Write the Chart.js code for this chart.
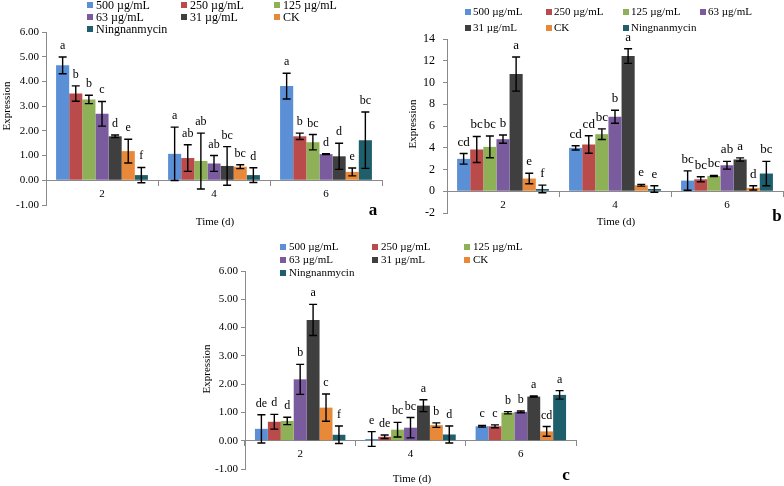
<!DOCTYPE html>
<html><head><meta charset="utf-8">
<script src="https://cdn.jsdelivr.net/npm/chart.js@4"></script>
<style>
html,body{margin:0;padding:0;background:#fff;width:784px;height:486px;overflow:hidden;position:relative}
canvas{position:absolute;display:block}
</style></head><body>
<canvas id="ca" width="392" height="230" style="left:0;top:0"></canvas>
<canvas id="cb" width="392" height="230" style="left:392px;top:0"></canvas>
<canvas id="cc" width="400" height="246" style="left:195px;top:240px"></canvas>
<script>
const days = ['2', '4', '6'];
const seriesNames = ['500 µg/mL', '250 µg/mL', '125 µg/mL', '63 µg/mL', '31 µg/mL', 'CK', 'Ningnanmycin'];
const seriesColors = ['#5b8fd6', '#b94b4a', '#8eb057', '#7a5c9e', '#3f3f3f', '#e8893a', '#1f5e6b'];

// Panel a: values, errors, significance letters (per series, days 2/4/6)
const aVal500 = [4.65, 1.07, 3.81], aErr500 = [0.34, 1.08, 0.52], aSig500 = ['a', 'a', 'a'];
const aVal250 = [3.51, 0.90, 1.78], aErr250 = [0.31, 0.54, 0.13], aSig250 = ['b', 'ab', 'b'];
const aVal125 = [3.27, 0.78, 1.54], aErr125 = [0.17, 1.13, 0.31], aSig125 = ['b', 'ab', 'bc'];
const aVal63  = [2.69, 0.68, 1.06], aErr63  = [0.50, 0.32, 0.02], aSig63  = ['c', 'ab', 'd'];
const aVal31  = [1.78, 0.58, 0.97], aErr31  = [0.05, 0.78, 0.53], aSig31  = ['d', 'bc', 'd'];
const aValCK  = [1.18, 0.55, 0.34], aErrCK  = [0.48, 0.08, 0.16], aSigCK  = ['e', 'bc', 'e'];
const aValNing = [0.21, 0.21, 1.62], aErrNing = [0.31, 0.30, 1.14], aSigNing = ['f', 'd', 'bc'];

// Panel b
const bVal500 = [2.98, 3.99, 0.98], bErr500 = [0.49, 0.20, 0.89], bSig500 = ['cd', 'cd', 'bc'];
const bVal250 = [3.84, 4.30, 1.10], bErr250 = [1.20, 0.80, 0.23], bSig250 = ['bc', 'cd', 'bc'];
const bVal125 = [4.08, 5.25, 1.41], bErr125 = [1.00, 0.49, 0.05], bSig125 = ['bc', 'bc', 'bc'];
const bVal63  = [4.79, 6.85, 2.39], bErr63  = [0.38, 0.60, 0.36], bSig63  = ['b', 'b', 'ab'];
const bVal31  = [10.78, 12.43, 2.92], bErr31 = [1.57, 0.67, 0.15], bSig31 = ['a', 'a', 'a'];
const bValCK  = [1.17, 0.55, 0.31], bErrCK  = [0.48, 0.08, 0.20], bSigCK  = ['e', 'e', 'd'];
const bValNing = [0.21, 0.21, 1.63], bErrNing = [0.35, 0.30, 1.12], bSigNing = ['f', 'e', 'bc'];

// Panel c
const cVal500 = [0.42, 0.06, 0.51], cErr500 = [0.50, 0.26, 0.03], cSig500 = ['de', 'e', 'c'];
const cVal250 = [0.67, 0.14, 0.51], cErr250 = [0.26, 0.06, 0.05], cSig250 = ['d', 'de', 'c'];
const cVal125 = [0.70, 0.39, 0.99], cErr125 = [0.13, 0.26, 0.04], cSig125 = ['d', 'bc', 'b'];
const cVal63  = [2.17, 0.46, 1.02], cErr63  = [0.53, 0.36, 0.03], cSig63  = ['b', 'bc', 'b'];
const cVal31  = [4.27, 1.24, 1.56], cErr31  = [0.55, 0.21, 0.02], cSig31  = ['a', 'a', 'a'];
const cValCK  = [1.17, 0.55, 0.33], cErrCK  = [0.48, 0.08, 0.17], cSigCK  = ['c', 'b', 'cd'];
const cValNing = [0.21, 0.22, 1.62], cErrNing = [0.31, 0.30, 0.15], cSigNing = ['f', 'd', 'a'];

const FONT = "'Liberation Serif', 'Times New Roman', serif";
Chart.defaults.font.family = FONT;
Chart.defaults.color = '#000';

function datasetsFrom(vals, errs, sigs) {
  return seriesNames.map((name, i) => ({
    label: name,
    data: vals[i],
    errors: errs[i],
    sig: sigs[i],
    backgroundColor: seriesColors[i],
    borderWidth: 0,
    categoryPercentage: 0.82,
    barPercentage: 1.0
  }));
}

const deco = {
  id: 'deco',
  afterDatasetsDraw(chart, args, o) {
    const ctx = chart.ctx, ys = chart.scales.y;
    ctx.save();
    chart.data.datasets.forEach((ds, i) => {
      const meta = chart.getDatasetMeta(i);
      meta.data.forEach((bar, j) => {
        const v = ds.data[j], e = ds.errors[j];
        const yt = ys.getPixelForValue(v + e), yb = ys.getPixelForValue(v - e);
        ctx.strokeStyle = '#000'; ctx.lineWidth = 1.4;
        ctx.beginPath();
        ctx.moveTo(bar.x, yt); ctx.lineTo(bar.x, yb);
        ctx.moveTo(bar.x - 4, yt); ctx.lineTo(bar.x + 4, yt);
        ctx.moveTo(bar.x - 4, yb); ctx.lineTo(bar.x + 4, yb);
        ctx.stroke();
        ctx.fillStyle = '#000';
        ctx.font = o.sigSize + 'px ' + FONT;
        ctx.textAlign = 'center'; ctx.textBaseline = 'alphabetic';
        ctx.fillText(ds.sig[j], bar.x, yt - o.sigGap);
      });
    });
    // legend
    ctx.font = o.legSize + 'px ' + FONT;
    ctx.textAlign = 'left'; ctx.textBaseline = 'middle';
    chart.data.datasets.forEach((ds, i) => {
      const col = i % o.legCols.length, row = Math.floor(i / o.legCols.length);
      const x = o.legCols[col], y = o.legRows[row];
      ctx.fillStyle = ds.backgroundColor;
      ctx.fillRect(x - 3, y - 3, 6, 6);
      ctx.fillStyle = '#000';
      ctx.fillText(ds.label, x + o.legOff, y + 0.5);
    });
    // axis titles and panel letter
    ctx.font = o.titleSize + 'px ' + FONT;
    ctx.textAlign = 'center'; ctx.textBaseline = 'middle';
    ctx.fillText('Time (d)', o.timePos[0], o.timePos[1]);
    ctx.save();
    ctx.translate(o.exprPos[0], o.exprPos[1]);
    ctx.rotate(-Math.PI / 2);
    ctx.font = o.exprSize + 'px ' + FONT;
    ctx.fillText('Expression', 0, 0);
    ctx.restore();
    ctx.font = 'bold 17px ' + FONT;
    ctx.fillText(o.letter, o.letterPos[0], o.letterPos[1]);
    ctx.restore();
  }
};

function makePanel(id, vals, errs, sigs, c) {
  new Chart(document.getElementById(id), {
    type: 'bar',
    data: { labels: days, datasets: datasetsFrom(vals, errs, sigs) },
    options: {
      responsive: false,
      animation: false,
      layout: { padding: c.padding },
      plugins: { legend: { display: false }, tooltip: { enabled: false }, deco: c.deco },
      scales: {
        x: {
          position: { y: 0 },
          grid: { drawOnChartArea: false, drawTicks: true, tickLength: 5, color: '#8a8a8a', offset: true },
          border: { display: true, color: '#8a8a8a', width: 1 },
          ticks: { font: { size: 11 }, padding: 2, color: '#000' }
        },
        y: {
          min: c.yMin, max: c.yMax,
          afterFit: (s) => { s.width = c.yWidth; },
          grid: { drawOnChartArea: false, drawTicks: true, tickLength: 4, color: '#8a8a8a' },
          border: { display: true, color: '#8a8a8a', width: 1 },
          ticks: {
            stepSize: c.step, padding: c.tickPad, color: '#000', font: { size: c.tickSize },
            callback: (v) => Number(v).toFixed(c.dec)
          }
        }
      }
    },
    plugins: [deco]
  });
}

makePanel('ca',
  [aVal500, aVal250, aVal125, aVal63, aVal31, aValCK, aValNing],
  [aErr500, aErr250, aErr125, aErr63, aErr31, aErrCK, aErrNing],
  [aSig500, aSig250, aSig125, aSig63, aSig31, aSigCK, aSigNing],
  { padding: { left: 0, top: 32, right: 10, bottom: 25 }, yWidth: 46, yMin: -1, yMax: 6, step: 1, dec: 2, tickSize: 11, tickPad: 3,
    deco: { sigSize: 12, sigGap: 8, legSize: 12, legOff: 6, legCols: [90, 184, 277], legRows: [5, 17, 29],
      titleSize: 11, timePos: [215, 222], exprSize: 11, exprPos: [7, 106], letter: 'a', letterPos: [373, 211] } });

makePanel('cb',
  [bVal500, bVal250, bVal125, bVal63, bVal31, bValCK, bValNing],
  [bErr500, bErr250, bErr125, bErr63, bErr31, bErrCK, bErrNing],
  [bSig500, bSig250, bSig125, bSig63, bSig31, bSigCK, bSigNing],
  { padding: { left: 0, top: 39, right: 1, bottom: 17 }, yWidth: 55, yMin: -2, yMax: 14, step: 2, dec: 0, tickSize: 12, tickPad: 8,
    deco: { sigSize: 13, sigGap: 8, legSize: 11, legOff: 5, legCols: [76, 157, 234, 311], legRows: [12, 28],
      titleSize: 11, timePos: [224, 222], exprSize: 11, exprPos: [21, 124], letter: 'b', letterPos: [385, 217] } });

makePanel('cc',
  [cVal500, cVal250, cVal125, cVal63, cVal31, cValCK, cValNing],
  [cErr500, cErr250, cErr125, cErr63, cErr31, cErrCK, cErrNing],
  [cSig500, cSig250, cSig125, cSig63, cSig31, cSigCK, cSigNing],
  { padding: { left: 0, top: 31, right: 19, bottom: 17 }, yWidth: 50, yMin: -1, yMax: 6, step: 1, dec: 2, tickSize: 11, tickPad: 3,
    deco: { sigSize: 12, sigGap: 8, legSize: 11, legOff: 6, legCols: [88, 180, 272], legRows: [7, 20, 33],
      titleSize: 11, timePos: [217, 239], exprSize: 11, exprPos: [12, 129], letter: 'c', letterPos: [371, 236] } });
</script>
</body></html>
